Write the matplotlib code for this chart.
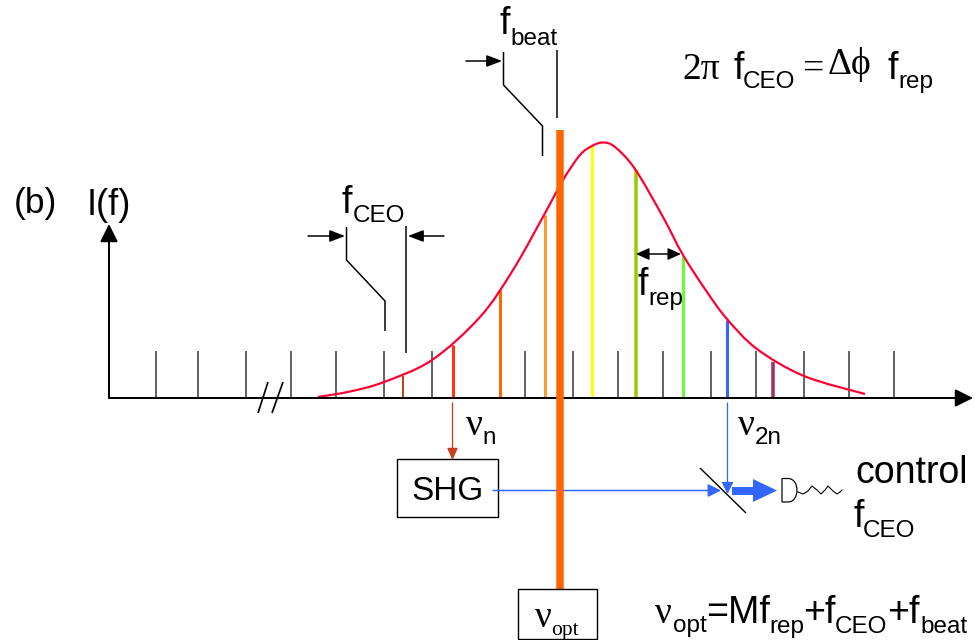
import matplotlib
matplotlib.use('Agg')
import matplotlib.pyplot as plt
from matplotlib.patches import Rectangle, PathPatch
from matplotlib.path import Path

axis_y = 398
tick_x = [156, 198, 246, 291, 336, 384, 432, 525, 573, 618, 663, 711, 756, 804, 849, 894]
tick_top = 351

curve_x = [318, 350, 384, 432, 480, 513, 544, 563, 580, 592, 603, 615, 635, 663, 683, 707, 727, 757, 804, 865]
curve_y = [397, 391.5, 382, 360, 317, 270, 215, 180, 155, 146, 142.5, 147, 169, 217, 255, 292, 319, 349, 376, 394]

comb_x = [403, 452.5, 500, 544.5, 592, 635.5, 683, 727, 773]
comb_top = [376, 345, 290, 215, 146, 170, 256, 320, 362]
comb_colors = ['#c8401a', '#ff3311', '#ff6a00', '#ff9933', '#ffff00', '#99cc00', '#66ff33', '#3366ff', '#993366']
comb_widths = [2, 3, 3, 3, 3, 3.5, 3, 3, 3.5]

wiggle_x = [798, 803, 808, 812, 817, 821, 825, 828, 833, 837, 840, 842]
wiggle_y = [492, 494, 491, 486, 490, 494, 490, 486, 491, 494, 492, 490]

MAIN = 27
SUB = 17.5
SANS = 'Liberation Sans'
SERIF = 'Liberation Serif'

# label text: (x, baseline y, string, size, family)
labels = [
    (14, 213, '(b)', 25.5, SANS),
    (87, 215, 'I(f)', 26, SANS),
    (342, 213, 'f', MAIN, SANS),
    (353, 222, 'CEO', SUB, SANS),
    (500, 34, 'f', MAIN, SANS),
    (510, 45, 'beat', SUB, SANS),
    (682, 79, '2\u03c0', 27, SERIF),
    (733, 79, 'f', MAIN, SANS),
    (743, 88, 'CEO', SUB, SANS),
    (802, 79, '=', 27, SERIF),
    (828, 74, '\u0394\u03d5', 27, SERIF),
    (887, 79, 'f', MAIN, SANS),
    (898, 88, 'rep', SUB, SANS),
    (637, 295, 'f', MAIN, SANS),
    (648, 305, 'rep', SUB, SANS),
    (466, 435, '\u03bd', 27, SERIF),
    (482, 444, 'n', SUB, SANS),
    (738, 435, '\u03bd', 27, SERIF),
    (755, 444, '2n', SUB, SANS),
    (411, 500, 'SHG', 24, SANS),
    (855, 483, 'control', MAIN, SANS),
    (853, 527, 'f', MAIN, SANS),
    (863, 537, 'CEO', SUB, SANS),
    (535, 627, '\u03bd', 27, SERIF),
    (551, 635, 'opt', 15.5, SERIF),
    (655, 623, '\u03bd', 27, SERIF),
    (673, 632, 'opt', SUB, SANS),
    (706, 623, '=Mf', MAIN, SANS),
    (769, 633, 'rep', SUB, SANS),
    (803, 623, '+f', MAIN, SANS),
    (835, 633, 'CEO', SUB, SANS),
    (887, 623, '+f', MAIN, SANS),
    (920, 633, 'beat', SUB, SANS),
]

fig = plt.figure(figsize=(9.75, 6.4), dpi=100)
ax = fig.add_axes([0, 0, 1, 1])
ax.set_xlim(0, 975)
ax.set_ylim(640, 0)
ax.axis('off')


def px(w):
    return w * 0.72


def line(xs, ys, color='black', w=1.5, z=2):
    ax.plot(xs, ys, color=color, lw=px(w), solid_capstyle='butt', solid_joinstyle='miter', zorder=z)


def arrow(x0, y0, x1, y1, color='black', w=1.5, hl=13, hw=10, kind='-|>', z=4):
    # head length and width in pixels
    style = f'{kind},head_length={px(hl) / 10},head_width={px(hw) / 20}'
    ax.annotate('', xy=(x1, y1), xytext=(x0, y0),
                arrowprops=dict(arrowstyle=style, color=color, lw=px(w), mutation_scale=10,
                                shrinkA=0, shrinkB=0), zorder=z)


def smooth(xs, ys, color, w, z=3):
    # bezier through the read points, so the envelope has no corners
    verts = [(xs[0], ys[0])]
    codes = [Path.MOVETO]
    n = len(xs)
    for i in range(n - 1):
        a = max(i - 1, 0)
        b = min(i + 2, n - 1)
        verts.append((xs[i] + (xs[i + 1] - xs[a]) / 6, ys[i] + (ys[i + 1] - ys[a]) / 6))
        verts.append((xs[i + 1] - (xs[b] - xs[i]) / 6, ys[i + 1] - (ys[b] - ys[i]) / 6))
        verts.append((xs[i + 1], ys[i + 1]))
        codes += [Path.CURVE4] * 3
    ax.add_patch(PathPatch(Path(verts, codes), fc='none', ec=color, lw=px(w), zorder=z))


# axes
arrow(109, axis_y, 973, axis_y, w=2, hl=15, hw=15)
arrow(109, axis_y, 109, 224, w=2, hl=15, hw=15)
line([258, 268], [413, 382], w=1.7)
line([272, 283], [413, 382], w=1.7)

for x in tick_x:
    line([x, x], [tick_top, axis_y], color='#333333', w=1.5, z=1)

# comb lines and envelope
for x, top, c, w in zip(comb_x, comb_top, comb_colors, comb_widths):
    line([x, x], [top, axis_y], color=c, w=w, z=2)
smooth(curve_x, curve_y, '#ff0033', 2.2)

# f_CEO markers
line([346.5, 346.5, 385, 385], [227, 260, 301, 331])
line([406, 406], [226, 353])
arrow(308, 236, 345, 236)
arrow(444, 236, 408, 236)

# f_beat markers
line([503.5, 503.5, 542.5, 542.5], [52, 85, 126, 156])
line([556.5, 556.5], [50, 118])
arrow(466, 61, 502, 61)

# f_rep
arrow(636, 254, 681, 254, kind='<|-|>', hl=11, hw=10)

# optical paths
arrow(452.5, 403, 452.5, 460, color='#c8401a', w=1.3, hl=10, hw=9)
arrow(727.5, 403, 727.5, 494, color='#3366ff', w=1.3, hl=10, hw=10, z=4)
arrow(493, 490.5, 721, 490.5, color='#3366ff', w=1.5, hl=11, hw=11, z=4)
line([700, 746], [468, 513], w=1.4, z=5)
line([732, 755], [490.5, 490.5], color='#3366ff', w=8, z=4)
arrow(753, 490.5, 777, 490.5, color='#3366ff', w=0, hl=24, hw=23)

# cw laser line, drawn over the blue beam
line([559.5, 559.5], [130, 589], color='#ff6600', w=7.5, z=5)

# detector
d_path = Path([(782, 478.5), (788, 478.5), (800, 478.5), (800, 502), (788, 502), (782, 502), (782, 478.5)],
              [Path.MOVETO, Path.LINETO, Path.CURVE4, Path.CURVE4, Path.CURVE4, Path.LINETO, Path.CLOSEPOLY])
ax.add_patch(PathPatch(d_path, fc='white', ec='black', lw=px(1.2), zorder=3))
ax.plot(wiggle_x, wiggle_y, color='black', lw=px(1.1))

# boxes
ax.add_patch(Rectangle((396.5, 459), 101, 58, fc='white', ec='black', lw=px(1.4), zorder=3))
ax.add_patch(Rectangle((517.5, 589), 79, 50, fc='white', ec='black', lw=px(1.4), zorder=6))

for x, y, s, size, fam in labels:
    ax.text(x, y, s, fontsize=size, family=fam, ha='left', va='baseline', color='black', zorder=7)

fig.savefig('out.png', dpi=100)
